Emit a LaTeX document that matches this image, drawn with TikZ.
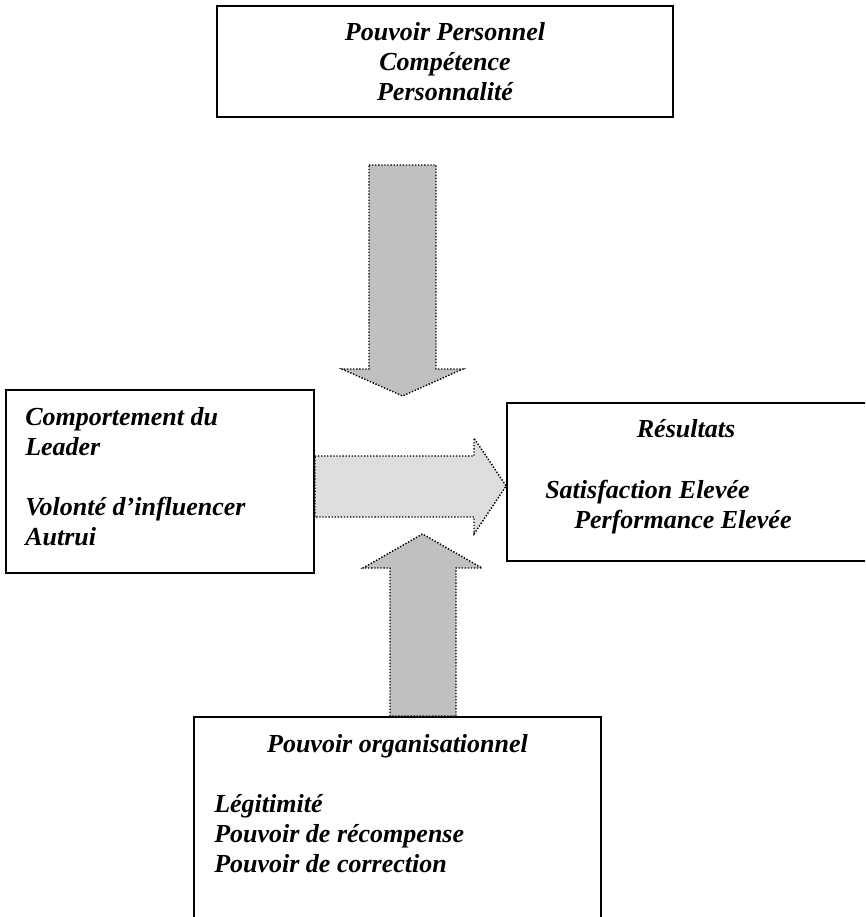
\documentclass[tikz,border=0pt]{standalone}
\usepackage{fontspec}
\setmainfont{Liberation Serif}
\usepackage{tikz}
\definecolor{grisfonce}{HTML}{C0C0C0}
\definecolor{grisclair}{HTML}{DDDDDD}
\tikzstyle{boite}=[rectangle,draw,line width=1.3pt,inner sep=0pt]
\tikzstyle{texte}=[inner sep=0pt,font=\fontsize{19.5pt}{22.5pt}\selectfont\bfseries\itshape]
\tikzstyle{fleche}=[draw,line width=1.1pt,dash pattern=on 1pt off 1.3pt]

\begin{document}
\begin{tikzpicture}[x=0.75pt,y=-0.75pt]
        \useasboundingbox (0,0) rectangle (865,917);
        \clip (0,0) rectangle (865,917);
        % boites
        \node[boite,minimum width=342pt,minimum height=83.25pt] (perso) at (445,61.5) {};
        \node[boite,minimum width=231pt,minimum height=137.25pt] (leader) at (160,481.5) {};
        \node[boite,minimum width=272.25pt,minimum height=118.5pt] (result) at (688.5,482) {};
        \node[boite,minimum width=305.25pt,minimum height=154.5pt] (orga) at (397.5,820) {};
        % textes
        \node[texte,align=center,anchor=north] (tperso) at (445,22.5) {Pouvoir Personnel\\Compétence\\Personnalité};
        \node[texte,align=left,anchor=north west] (tleader) at (25,407) {Comportement du\\Leader\\[22.5pt]Volonté d’influencer\\Autrui};
        \node[texte,anchor=north] (tresult) at (686,419) {Résultats};
        \node[texte,align=left,anchor=north west] (tsatisf) at (545,480) {Satisfaction Elevée\\\hspace*{21.75pt}Performance Elevée};
        \node[texte,anchor=north] (torga) at (397.5,734) {Pouvoir organisationnel};
        \node[texte,align=left,anchor=north west] (tpouvoirs) at (214,794) {Légitimité\\Pouvoir de récompense\\Pouvoir de correction};
        % fleches
        \draw[fleche,fill=grisfonce] (369,165) -- (436,165) -- (436,369) -- (463,369) -- (402.5,396) -- (342,369) -- (369,369) -- cycle;
        \draw[fleche,fill=grisclair] (leader.east |- 0,456) -- (474,456) -- (474,438) -- (result.west |- 0,486) -- (474,534) -- (474,517) -- (leader.east |- 0,517) -- cycle;
        \draw[fleche,fill=grisfonce] (orga.north -| 390,0) -- (390,568) -- (363,568) -- (422.5,534) -- (482,568) -- (456,568) -- (orga.north -| 456,0) -- cycle;
\end{tikzpicture}
\end{document}
